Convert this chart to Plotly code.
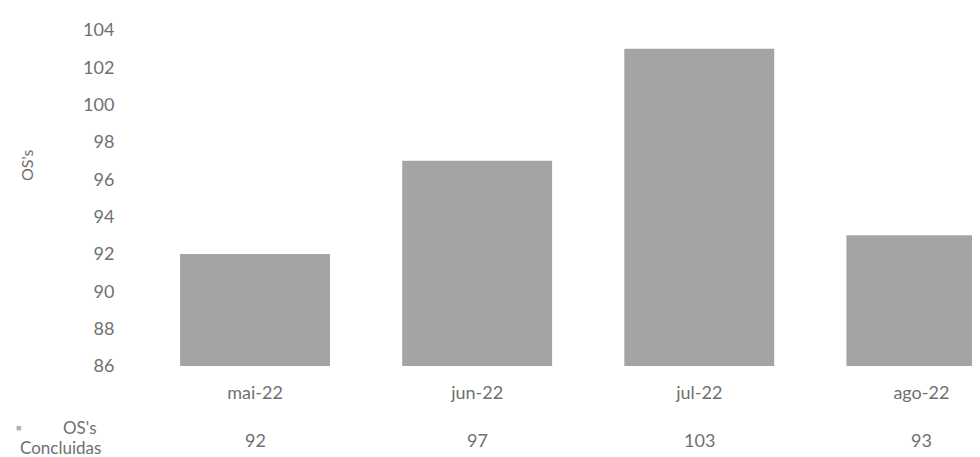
import plotly.graph_objects as go

categories = ["mai-22", "jun-22", "jul-22", "ago-22"]
values = [92, 97, 103, 93]
series_name_lines = ["OS's", "Concluidas"]
y_title = "OS's"
y_ticks = list(range(86, 105, 2))

FONT = "Lato, Calibri, Carlito, sans-serif"
TXT = "#707070"
BAR = "#a4a4a4"
FS = 18

PLOT_L, PLOT_R, PLOT_T, PLOT_B = 136, 980, 22, 358
W, H = 980, 457


def px_to_paper_x(px):
    return (px - PLOT_L) / (PLOT_R - PLOT_L)


def px_to_paper_y(py):
    return (PLOT_B - py) / (PLOT_B - PLOT_T)


fig = go.Figure()
fig.add_trace(go.Bar(
    x=categories, y=values,
    marker=dict(color=BAR, line=dict(width=0)),
    width=0.675,
    showlegend=False,
))

# data table row of values under the category labels
for c, v in zip(categories, values):
    fig.add_annotation(x=c, xref="x", y=px_to_paper_y(432), yref="paper", text=str(v),
                       showarrow=False, xanchor="center", yanchor="middle",
                       font=dict(family=FONT, size=FS, color=TXT))

# legend key for table row
fig.add_annotation(x=px_to_paper_x(10), xref="paper", y=px_to_paper_y(419), yref="paper", text="■",
                   showarrow=False, xanchor="center", yanchor="middle",
                   font=dict(family=FONT, size=9, color="#b0b0b0"))
fig.add_annotation(x=px_to_paper_x(72), xref="paper", y=px_to_paper_y(419), yref="paper",
                   text=series_name_lines[0],
                   showarrow=False, xanchor="center", yanchor="middle",
                   font=dict(family=FONT, size=17, color=TXT))
fig.add_annotation(x=px_to_paper_x(52), xref="paper", y=px_to_paper_y(439), yref="paper",
                   text=series_name_lines[1],
                   showarrow=False, xanchor="center", yanchor="middle",
                   font=dict(family=FONT, size=17, color=TXT))

# y-axis title
fig.add_annotation(x=px_to_paper_x(18), xref="paper", y=px_to_paper_y(157), yref="paper", text=y_title,
                   showarrow=False, textangle=-90, xanchor="center", yanchor="middle",
                   font=dict(family=FONT, size=16, color=TXT))

fig.update_layout(
    width=W, height=H,
    margin=dict(l=PLOT_L, r=W - PLOT_R, t=PLOT_T, b=H - PLOT_B),
    paper_bgcolor="white", plot_bgcolor="white",
    font=dict(family=FONT, size=FS, color=TXT),
    xaxis=dict(range=[-0.5, 3.3], showgrid=False, showline=False, zeroline=False,
               ticks="outside", ticklen=10, tickcolor="rgba(0,0,0,0)",
               tickfont=dict(family=FONT, size=FS, color=TXT)),
    yaxis=dict(range=[86, 104], tickvals=y_ticks, showgrid=False, showline=False,
               zeroline=False, ticks="outside", ticklen=25, tickcolor="rgba(0,0,0,0)",
               tickfont=dict(family=FONT, size=FS, color=TXT)),
)

fig.write_html("out.html")
